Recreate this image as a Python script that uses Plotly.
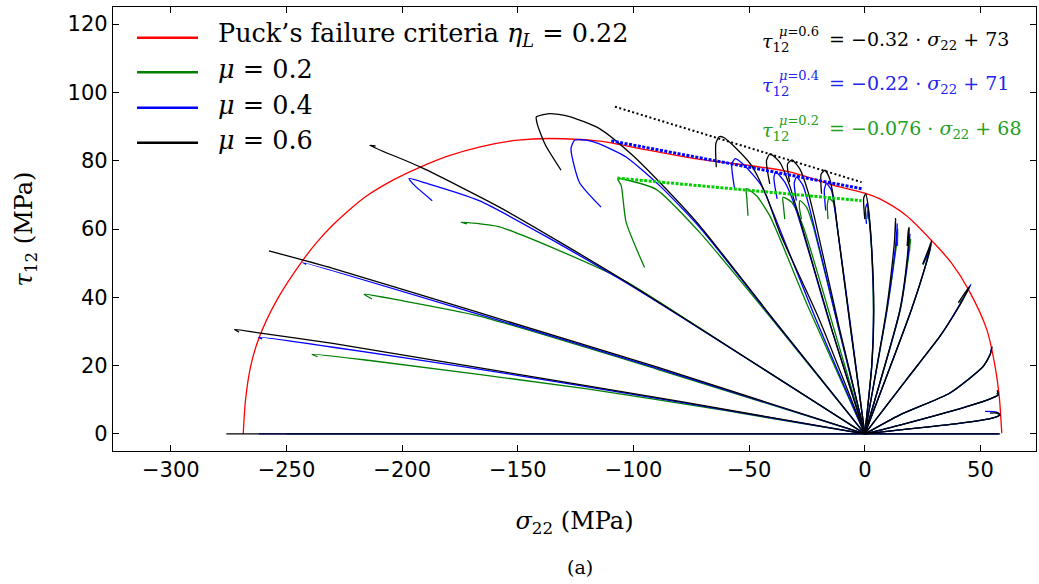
import plotly.graph_objects as go

# ---------------- data ----------------
# Puck's failure envelope (sigma_22, tau_12) in MPa
puck_sigma = [-268.7, -267.7, -265.5, -261.9, -254, -243.2, -237, -230.2, -223, -215.7,
              -204, -191.9, -180, -166.7, -150, -136.4, -114.7, -93.1, -71.4, -50, -32.5,
              -10.8, 0, 6.5, 18, 29.6, 37.5, 44.7, 52.7, 56.3, 58.1, 59.2]
puck_tau = [0, 10, 19.8, 28.1, 39.4, 50.6, 56, 61, 65.5, 69.5,
            74.3, 78.2, 81.4, 84, 86, 86.5, 85.7, 83, 80.4, 78.6, 76.7,
            72.3, 70.5, 68.8, 63.9, 56.1, 50, 42.4, 30.6, 19.8, 11, 0.2]

# load paths for mu = 0.6 (black)
mu06_sigma = [
    [0, -276], [0, 58.5],
    [0, -80, -167, -230, -262, -272.5, -270.5],
    [0, -90, -166.7, -230, -257.6],
    [0, -105, -158, -192, -214, -211.5],
    [0, -40, -71.4, -88.7, -100.4, -114.7, -128, -136.4, -142, -141.5, -138, -131.3],
    [0, -20, -36.8, -42.6, -49, -57, -61, -63, -64.4, -64.2],
    [0, -14, -28.1, -32.5, -36.8, -41, -42.5, -41.1],
    [0, -11, -21.6, -24.5, -28.1, -31.5, -33.4, -32.5],
    [0, -6, -11.6, -13, -15.2, -17.2, -18.9, -18.7],
    [0, 3, 3.9, 2.9, 1.4, 0.4, -0.5, 0],
    [0, 9.4, 12.2, 13.2, 13.3, 12.8],
    [0, 15.2, 18.4, 19.2, 18.9, 18.3],
    [0, 20.2, 26.5, 28.9, 27.5, 25],
    [0, 18, 32.5, 40, 45.5, 43.5, 40.4],
    [0, 15.2, 36.8, 51.2, 54.3, 55, 54.6],
    [0, 15.2, 44, 55, 57.7, 57.2],
    [0, 15.2, 40, 55, 58.4, 57.5, 54.1],
]
mu06_tau = [
    [0, 0], [0, 0],
    [0, 9.5, 19.4, 26.5, 29.6, 30.6, 29.8],
    [0, 19.6, 35.5, 48.5, 53.6],
    [0, 45.3, 66.4, 78.1, 84.5, 84.3],
    [0, 34, 61, 73.7, 81.6, 89.4, 93, 93.8, 92.8, 90.5, 84.5, 77.2],
    [0, 34, 59, 69.8, 78.6, 84.5, 86.8, 87, 85, 78.1],
    [0, 30, 62.9, 72.7, 79.6, 82, 80, 73.2],
    [0, 31, 62.9, 70.8, 77.6, 80.2, 79, 73.7],
    [0, 30, 59, 66.9, 74.7, 77.2, 76, 70.3],
    [0, 20, 36.5, 55, 66.9, 70.3, 69, 62.9],
    [0, 36.5, 52, 60, 63, 56],
    [0, 36.5, 52, 60.5, 60, 55],
    [0, 36.5, 50, 56.6, 54, 49.7],
    [0, 15.9, 28.6, 36.5, 43.3, 41.5, 38.4],
    [0, 5.6, 12, 19.8, 23.5, 25.5, 24.5],
    [0, 2.6, 8, 10.5, 11.5, 12.8],
    [0, 1.2, 3, 4.6, 5.6, 6.1, 6.1],
]

# load paths for mu = 0.4 (blue)
mu04_sigma = [
    [0, -262], [0, 58],
    [0, -80, -167, -262, -260.5],
    [0, -90, -166.7, -243, -241.5],
    [0, -105, -166.7, -190, -197, -195, -187],
    [0, -40, -71.4, -88.7, -103.2, -115, -120.5, -125.5, -127, -123.4, -114],
    [0, -22, -39.7, -44.7, -52, -56, -57.5, -56.3],
    [0, -15, -30.3, -34.6, -38.5, -39.3, -37.9],
    [0, -12, -23.8, -26.7, -29.5, -30.5, -29.6],
    [0, -6, -12.2, -14.4, -16.6, -17.5, -16.9],
    [0, 3, 3.8, 2.9, 1.6, 1, 0.3, 0.7],
    [0, 9.6, 12.8, 13.9, 14, 13.7],
    [0, 15.3, 18.7, 19.5, 19.4, 18.9],
    [0, 20.2, 26.5, 28.7, 27, 25.3],
    [0, 18, 32.5, 40, 45.9, 44],
    [0, 15.2, 36.8, 51.2, 54.3, 54.8, 54.4],
    [0, 15.2, 44, 55, 57.7, 57.3],
    [0, 15.2, 40, 55, 58.4, 57, 52],
]
mu04_tau = [
    [0, 0], [0, 0],
    [0, 9.3, 19, 28.3, 27.8],
    [0, 19.3, 35, 50.2, 49.6],
    [0, 45, 68.3, 73.5, 74.8, 73, 68.3],
    [0, 33.8, 60.5, 72.7, 81.1, 85, 86, 86, 83.5, 73.7, 66.4],
    [0, 35, 64.9, 72.7, 78.6, 80.6, 79, 71.8],
    [0, 32, 66.9, 73.7, 76.7, 75, 68.8],
    [0, 33, 65.9, 72.7, 75.2, 73.5, 68.3],
    [0, 31, 62, 71.3, 73.3, 71.5, 65.4],
    [0, 20, 36, 55, 65, 67.5, 66, 61.5],
    [0, 36.5, 52, 60, 61.5, 55],
    [0, 36.5, 52, 58.5, 57.5, 54.5],
    [0, 36.5, 49.8, 55.5, 52.5, 50],
    [0, 15.9, 28.6, 36.7, 43.8, 41.8],
    [0, 5.6, 12, 19.8, 23.5, 25, 24.2],
    [0, 2.6, 8, 10.5, 11.5, 12.5],
    [0, 1.2, 3, 4.6, 5.6, 6.4, 6.6],
]

# load paths for mu = 0.2 (green)
mu02_sigma = [
    [0, -250], [0, 57.5],
    [0, -60, -120, -214, -239, -236.5],
    [0, -90, -166.7, -200, -216.5, -213],
    [0, -60, -105, -158, -174.6, -172],
    [0, -40, -71.4, -90.2, -102, -106.8, -105.3, -103.2, -95.2],
    [0, -25, -41.1, -46.9, -51.2, -51, -50.5],
    [0, -13, -26.8, -31.7, -35.4, -35.2, -34.6],
    [0, -11, -22.4, -25.2, -28, -28.3, -27.4],
    [0, -6, -11.8, -13.7, -15.5, -16.2, -15.9],
    [0, 3, 3.7, 2.8, 1.6, 1.2, 1.0],
    [0, 9.7, 13, 14.2, 14.2, 14.1],
    [0, 15.4, 18.9, 19.8, 19.6, 19.3],
    [0, 20.2, 26.4, 28.4, 26.8, 25.2],
    [0, 18, 32.5, 40, 43, 41],
    [0, 15.2, 36.8, 51.2, 54, 53.5],
    [0, 15.2, 44, 55, 57.4, 57],
    [0, 15.2, 40, 55, 58.2, 56.5],
]
mu02_tau = [
    [0, 0], [0, 0],
    [0, 6.8, 13.2, 21.5, 23.3, 22.6],
    [0, 19, 34.5, 39, 40.9, 39.5],
    [0, 26, 45.3, 60.6, 62, 61.5],
    [0, 33.5, 59, 71.6, 74.2, 74.7, 72.7, 62, 48.7],
    [0, 38, 63.9, 69.8, 71.8, 69, 63.9],
    [0, 30, 61, 67.9, 69.3, 67, 62.9],
    [0, 30, 61, 66.4, 68.3, 66.5, 62.9],
    [0, 30, 60, 67.9, 68.9, 67, 62.9],
    [0, 20, 36, 55, 64, 65.5, 63],
    [0, 36.5, 52, 58, 60, 55],
    [0, 36.5, 52, 57, 56, 53.5],
    [0, 36.5, 49.5, 54.5, 52, 49.5],
    [0, 15.9, 28.6, 36.5, 40, 38.5],
    [0, 5.6, 12, 19.8, 23, 22.5],
    [0, 2.6, 8, 10.5, 11.3, 12],
    [0, 1.2, 3, 4.6, 5.5, 6.2],
]

# linear fits of the peak shear stress (drawn dotted)
fit06_sigma = [-108, -1.4]
fit06_tau = [95.8, 73.7]
fit04_sigma = [-109.6, -1.4]
fit04_tau = [85.8, 71.8]
fit02_sigma = [-107, -1.4]
fit02_tau = [74.9, 68.3]

x_ticks = [-300, -250, -200, -150, -100, -50, 0, 50]
y_ticks = [0, 20, 40, 60, 80, 100, 120]

legend_labels = ["Puck’s failure criteria <i>η</i><sub><i>L</i></sub> = 0.22",
                 "<i>μ</i> = 0.2", "<i>μ</i> = 0.4", "<i>μ</i> = 0.6"]
legend_colors = ["#ff0000", "#008000", "#0000ff", "#000000"]

# ---------------- figure ----------------
L, R, T, B = 113, 3, 7, 133
WFIG, HFIG = 1039, 584
PW, PH = WFIG - L - R, HFIG - T - B


def px(xp):
    return (xp - L) / PW


def py(yp):
    return (HFIG - B - yp) / PH


def join(paths_s, paths_t):
    xs, ys = [], []
    for s, t in zip(paths_s, paths_t):
        xs += list(s) + [None]
        ys += list(t) + [None]
    return xs, ys


fig = go.Figure()
fig.add_trace(go.Scatter(x=puck_sigma, y=puck_tau, mode="lines",
                         line=dict(color="#ff0000", width=1.3, shape="spline", smoothing=0.8),
                         hoverinfo="skip"))

for ps, pt, col in [(mu02_sigma, mu02_tau, "#008000"),
                    (mu04_sigma, mu04_tau, "#0000ff"),
                    (mu06_sigma, mu06_tau, "#000000")]:
    xs, ys = join(ps, pt)
    fig.add_trace(go.Scatter(x=xs, y=ys, mode="lines", connectgaps=False,
                             line=dict(color=col, width=1.3, shape="spline", smoothing=0.6),
                             hoverinfo="skip"))

fig.add_trace(go.Scatter(x=fit04_sigma, y=fit04_tau, mode="lines",
                         line=dict(color="#0000ff", width=3, dash="3px,1.5px"), hoverinfo="skip"))
fig.add_trace(go.Scatter(x=fit02_sigma, y=fit02_tau, mode="lines",
                         line=dict(color="#00d000", width=3, dash="3px,1.5px"), hoverinfo="skip"))
fig.add_trace(go.Scatter(x=fit06_sigma, y=fit06_tau, mode="lines",
                         line=dict(color="#000000", width=2, dash="2px,2.5px"), hoverinfo="skip"))

serif = "DejaVu Serif"
annotations = []
shapes = []

# manual legend
leg_line_y = [37.7, 72.3, 107.7, 142.7]
leg_text_y = [34.5, 69.5, 104.5, 139.5]
for lab, col, ly, ty in zip(legend_labels, legend_colors, leg_line_y, leg_text_y):
    shapes.append(dict(type="line", xref="paper", yref="paper",
                       x0=px(137), x1=px(198), y0=py(ly), y1=py(ly),
                       line=dict(color=col, width=2.6)))
    annotations.append(dict(xref="paper", yref="paper", x=px(216), y=py(ty),
                            xanchor="left", yanchor="middle", showarrow=False,
                            text=lab, font=dict(family=serif, size=25.5, color="#000000")))

# fit equations
eqs = [("0.6", "−0.32", "73", "#000000", 47.3),
       ("0.4", "−0.22", "71", "#2424f0", 91.7),
       ("0.2", "−0.076", "68", "#22a022", 136.7)]
for mu, slope, icpt, col, base in eqs:
    annotations.append(dict(xref="paper", yref="paper", x=px(760), y=py(base - 5),
                            xanchor="left", yanchor="middle", showarrow=False,
                            text="<i>τ</i><sub>12</sub>",
                            font=dict(family=serif, size=19, color=col)))
    annotations.append(dict(xref="paper", yref="paper", x=px(777), y=py(base - 16),
                            xanchor="left", yanchor="middle", showarrow=False,
                            text="<i>μ</i>=" + mu,
                            font=dict(family=serif, size=13, color=col)))
    annotations.append(dict(xref="paper", yref="paper", x=px(827), y=py(base - 7),
                            xanchor="left", yanchor="middle", showarrow=False,
                            text="= " + slope + " · <i>σ</i><sub>22</sub> + " + icpt,
                            font=dict(family=serif, size=19, color=col)))

annotations.append(dict(xref="paper", yref="paper", x=px(580), y=py(567),
                        xanchor="center", yanchor="middle", showarrow=False,
                        text="(a)", font=dict(family=serif, size=19, color="#000000")))

axis_common = dict(showline=True, linecolor="#000000", linewidth=1.2, mirror="allticks",
                   ticks="inside", ticklen=6, tickwidth=1.2, tickcolor="#000000",
                   showgrid=False, zeroline=False, automargin=False,
                   tickfont=dict(family="DejaVu Sans", size=21, color="#000000"))

fig.update_layout(
    width=WFIG, height=HFIG,
    margin=dict(l=L, r=R, t=T, b=B, autoexpand=False),
    plot_bgcolor="white", paper_bgcolor="white",
    showlegend=False,
    xaxis=dict(range=[-325, 74], tickvals=x_ticks,
               title=dict(text="<i>σ</i><sub>22</sub> (MPa)", standoff=30,
                          font=dict(family=serif, size=24, color="#000000")),
               **axis_common),
    yaxis=dict(range=[-5, 125], tickvals=y_ticks,
               title=dict(text="<i>τ</i><sub>12</sub> (MPa)", standoff=28,
                          font=dict(family=serif, size=24, color="#000000")),
               **axis_common),
    annotations=annotations,
    shapes=shapes,
)

fig.write_html("out.html", config={"displayModeBar": False},
               post_script="document.body.style.margin='0px';document.body.style.overflow='hidden';")
